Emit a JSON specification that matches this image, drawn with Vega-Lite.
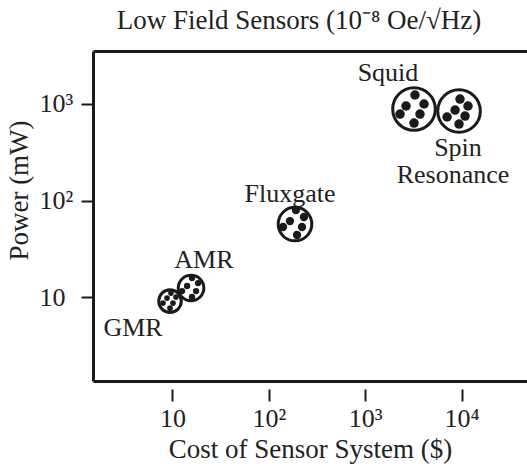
{
  "$schema": "https://vega.github.io/schema/vega-lite/v6.json",
  "width": 434,
  "height": 330,
  "autosize": {"type": "none"},
  "padding": {"left": 93, "top": 51, "right": 0, "bottom": 89},
  "background": "white",
  "config": {
    "font": "Liberation Serif",
    "view": {"stroke": null},
    "axis": {
      "grid": false,
      "domainColor": "#1a1a1a",
      "domainWidth": 3,
      "tickColor": "#1a1a1a",
      "tickWidth": 2,
      "labelColor": "#222222",
      "titleColor": "#222222",
      "labelFont": "Liberation Serif",
      "titleFont": "Liberation Serif",
      "titleFontWeight": "normal",
      "labelFontSize": 26,
      "titleFontSize": 27
    }
  },
  "title": {
    "text": "Low Field Sensors (10⁻⁸ Oe/√Hz)",
    "font": "Liberation Serif",
    "fontSize": 27,
    "fontWeight": "normal",
    "color": "#222222",
    "anchor": "middle",
    "dx": -11,
    "offset": -5,
    "baseline": "alphabetic"
  },
  "datasets": {
    "circles": [
      {"sensor": "GMR", "cost": 9.44, "power": 9.08},
      {"sensor": "AMR", "cost": 15.6, "power": 12.4},
      {"sensor": "Fluxgate", "cost": 186.8, "power": 57.0},
      {"sensor": "Squid", "cost": 3206, "power": 887},
      {"sensor": "Spin Resonance", "cost": 9397, "power": 846}
    ],
    "dots": [
      {"sensor": "Squid", "cost": 3281, "power": 1239},
      {"sensor": "Squid", "cost": 4074, "power": 1000},
      {"sensor": "Squid", "cost": 2649, "power": 953},
      {"sensor": "Squid", "cost": 2296, "power": 787},
      {"sensor": "Squid", "cost": 3698, "power": 787},
      {"sensor": "Squid", "cost": 3206, "power": 635},
      {"sensor": "Spin Resonance", "cost": 9616, "power": 1125},
      {"sensor": "Spin Resonance", "cost": 11641, "power": 953},
      {"sensor": "Spin Resonance", "cost": 8551, "power": 865},
      {"sensor": "Spin Resonance", "cost": 7063, "power": 733},
      {"sensor": "Spin Resonance", "cost": 10839, "power": 750},
      {"sensor": "Spin Resonance", "cost": 9397, "power": 619},
      {"sensor": "Fluxgate", "cost": 191.0, "power": 79.6},
      {"sensor": "Fluxgate", "cost": 231.2, "power": 67.5},
      {"sensor": "Fluxgate", "cost": 165.6, "power": 61.2},
      {"sensor": "Fluxgate", "cost": 140.3, "power": 53.1},
      {"sensor": "Fluxgate", "cost": 220.8, "power": 53.1},
      {"sensor": "Fluxgate", "cost": 195.9, "power": 43.9},
      {"sensor": "AMR", "cost": 15.96, "power": 15.74},
      {"sensor": "AMR", "cost": 18.45, "power": 13.96},
      {"sensor": "AMR", "cost": 14.19, "power": 13.0},
      {"sensor": "AMR", "cost": 12.59, "power": 11.53},
      {"sensor": "AMR", "cost": 17.58, "power": 11.53},
      {"sensor": "AMR", "cost": 15.96, "power": 10.0},
      {"sensor": "GMR", "cost": 9.66, "power": 10.99},
      {"sensor": "GMR", "cost": 10.89, "power": 9.98},
      {"sensor": "GMR", "cost": 8.79, "power": 9.75},
      {"sensor": "GMR", "cost": 7.98, "power": 8.65},
      {"sensor": "GMR", "cost": 10.14, "power": 8.65},
      {"sensor": "GMR", "cost": 9.44, "power": 7.67}
    ],
    "labels": [
      {"label": "Squid", "cost": 1722, "power": 2094},
      {"label": "Spin", "cost": 9162, "power": 350},
      {"label": "Resonance", "cost": 8128, "power": 183.7},
      {"label": "Fluxgate", "cost": 166, "power": 116.7},
      {"label": "AMR", "cost": 21.2, "power": 24.2},
      {"label": "GMR", "cost": 3.9, "power": 4.77}
    ]
  },
  "layer": [
    {
      "data": {"name": "circles"},
      "mark": {"type": "point", "shape": "circle", "filled": false, "color": "#1a1a1a", "strokeWidth": 3, "opacity": 1},
      "encoding": {
        "x": {
          "field": "cost", "type": "quantitative",
          "scale": {"type": "log", "domain": [1.5, 47640], "nice": false},
          "axis": {
            "orient": "bottom", "offset": 8, "domain": false, "ticks": true, "tickSize": 12,
            "values": [10, 100, 1000, 10000],
            "labelExpr": "datum.value == 10 ? '10' : datum.value == 100 ? '10²' : datum.value == 1000 ? '10³' : '10⁴'",
            "labelPadding": 4, "labelFlush": false, "labelOverlap": false,
            "title": "Cost of Sensor System ($)", "titlePadding": 5
          }
        },
        "y": {
          "field": "power", "type": "quantitative",
          "scale": {"type": "log", "domain": [1.349, 3540], "nice": false},
          "axis": {
            "orient": "left", "values": [10, 100, 1000],
            "labelExpr": "datum.value == 10 ? '10' : datum.value == 100 ? '10²' : '10³'",
            "tickSize": 12, "labelAlign": "left", "labelPadding": 42, "labelBaseline": "middle",
            "title": "Power (mW)", "titleX": -66, "titleY": 139, "titleBaseline": "alphabetic",
            "titleAngle": -90, "titleAlign": "center"
          }
        },
        "size": {
          "condition": [
            {"test": "datum.sensor === 'GMR'", "value": 511},
            {"test": "datum.sensor === 'AMR'", "value": 655},
            {"test": "datum.sensor === 'Fluxgate'", "value": 1129}
          ],
          "value": 1815
        }
      }
    },
    {
      "data": {"name": "dots"},
      "mark": {"type": "circle", "color": "#1a1a1a", "opacity": 1},
      "encoding": {
        "x": {
          "field": "cost", "type": "quantitative",
          "scale": {"type": "log", "domain": [1.5, 47640], "nice": false},
          "axis": {"orient": "bottom", "domain": true, "ticks": false, "labels": false, "title": null}
        },
        "y": {"field": "power", "type": "quantitative", "scale": {"type": "log", "domain": [1.349, 3540], "nice": false}},
        "size": {
          "condition": [
            {"test": "datum.sensor === 'GMR'", "value": 32},
            {"test": "datum.sensor === 'AMR'", "value": 40},
            {"test": "datum.sensor === 'Fluxgate'", "value": 70}
          ],
          "value": 90
        }
      }
    },
    {
      "data": {"name": "labels"},
      "mark": {"type": "text", "font": "Liberation Serif", "fontSize": 26, "color": "#222222", "align": "center", "baseline": "middle"},
      "encoding": {
        "x": {
          "field": "cost", "type": "quantitative",
          "scale": {"type": "log", "domain": [1.5, 47640], "nice": false},
          "axis": {"orient": "top", "domain": true, "ticks": false, "labels": false, "title": null}
        },
        "y": {"field": "power", "type": "quantitative", "scale": {"type": "log", "domain": [1.349, 3540], "nice": false}},
        "text": {"field": "label"}
      }
    }
  ],
  "resolve": {"axis": {"x": "independent"}}
}
